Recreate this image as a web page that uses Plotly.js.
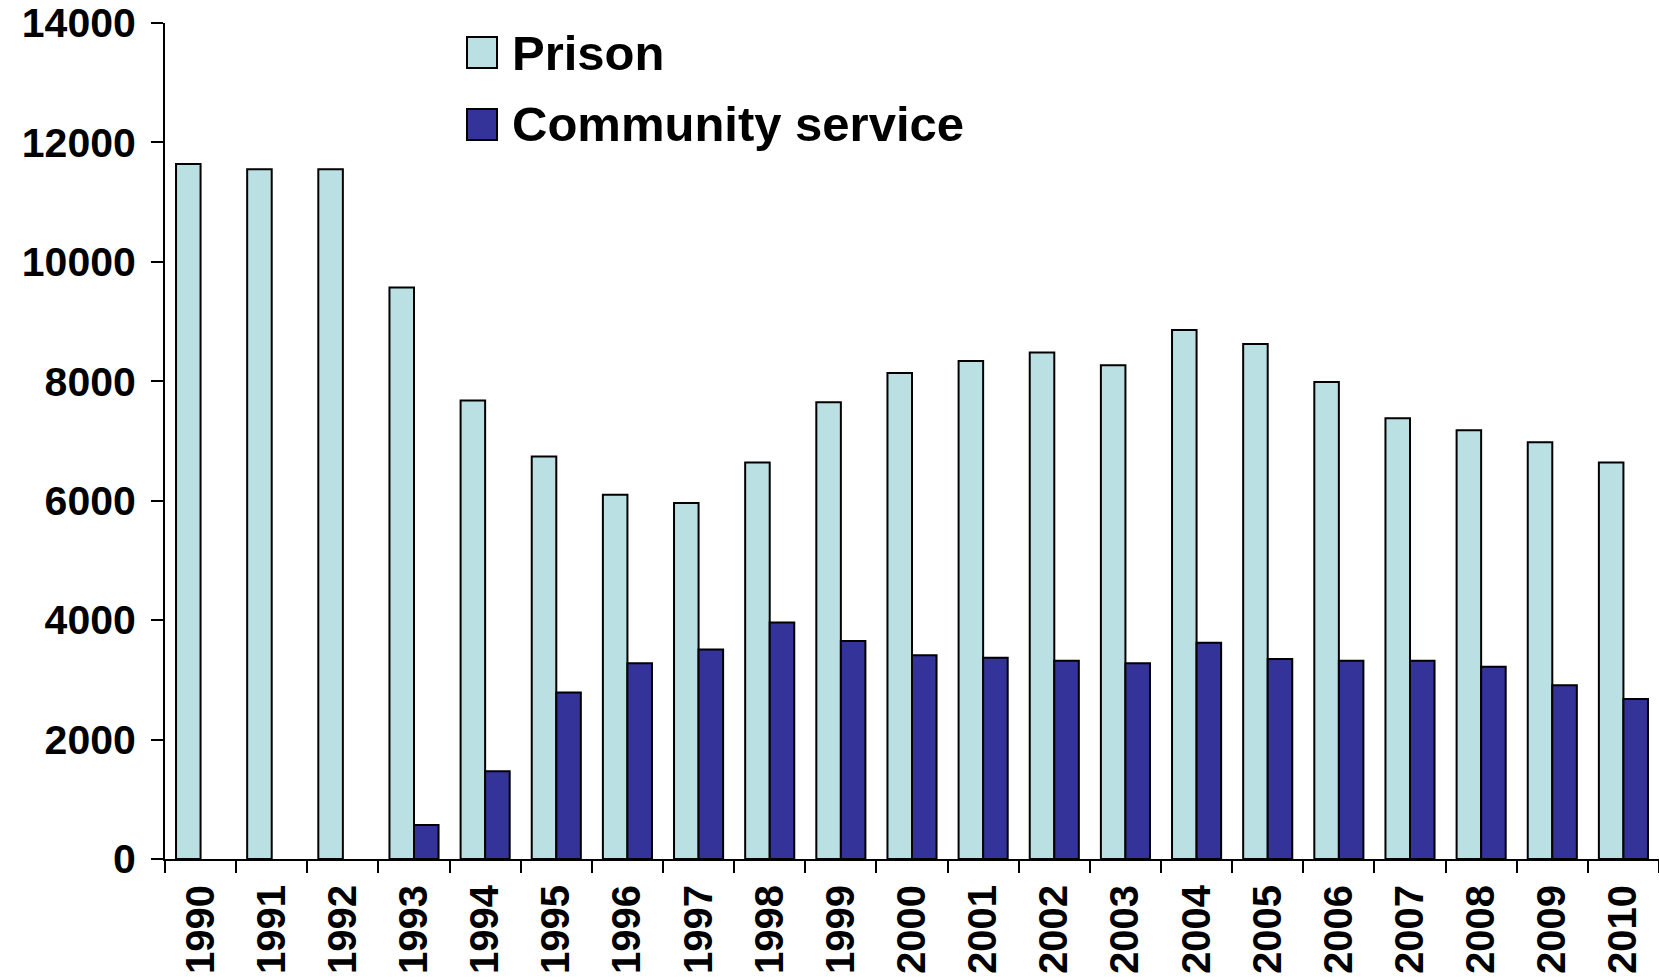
<!DOCTYPE html>
<html>
<head>
<meta charset="utf-8">
<script src="https://cdn.plot.ly/plotly-3.0.1.min.js"></script>
<style>
  html, body { margin: 0; padding: 0; background: #ffffff; }
  #chart { width: 1659px; height: 979px; }
</style>
</head>
<body>
<div id="chart"></div>
<script>
const years = ["1990","1991","1992","1993","1994","1995","1996","1997","1998","1999","2000",
               "2001","2002","2003","2004","2005","2006","2007","2008","2009","2010"];
const prison = [11640, 11550, 11550, 9570, 7680, 6740, 6100, 5960, 6640, 7650, 8140,
                8340, 8480, 8270, 8860, 8625, 7990, 7380, 7180, 6980, 6640];
const community = [null, null, null, 570, 1470, 2790, 3280, 3510, 3960, 3650, 3410,
                   3370, 3320, 3280, 3620, 3350, 3320, 3320, 3220, 2910, 2680];
const seriesNames = ["Prison", "Community service"];
const seriesColors = ["#BBE0E3", "#333399"];
const yTicks = [0, 2000, 4000, 6000, 8000, 10000, 12000, 14000];

const FONT = "Liberation Sans, Arial, sans-serif";

const traces = [
  {
    type: "bar", name: seriesNames[0], x: years, y: prison,
    marker: { color: seriesColors[0], line: { color: "#000000", width: 2 } },
    showlegend: false, hoverinfo: "x+y+name"
  },
  {
    type: "bar", name: seriesNames[1], x: years, y: community,
    marker: { color: seriesColors[1], line: { color: "#000000", width: 2 } },
    showlegend: false, hoverinfo: "x+y+name"
  }
];

// Legend drawn as paper-positioned squares and text
const L = 165, W = 1494, T = 23, H = 836;
function px2x(p) { return (p - L) / W; }
function py2y(p) { return (T + H - p) / H; }

const legendShapes = [
  { type: "rect", xref: "paper", yref: "paper",
    x0: px2x(467), x1: px2x(497), y0: py2y(68), y1: py2y(37),
    fillcolor: seriesColors[0], line: { color: "#000000", width: 2 } },
  { type: "rect", xref: "paper", yref: "paper",
    x0: px2x(467), x1: px2x(497), y0: py2y(140), y1: py2y(109),
    fillcolor: seriesColors[1], line: { color: "#000000", width: 2 } }
];
const legendAnnotations = [
  { xref: "paper", yref: "paper", x: px2x(510), y: py2y(53), xanchor: "left", yanchor: "middle",
    text: seriesNames[0], showarrow: false,
    font: { family: FONT, size: 49, color: "#000000", weight: "bold" } },
  { xref: "paper", yref: "paper", x: px2x(510), y: py2y(124), xanchor: "left", yanchor: "middle",
    text: seriesNames[1], showarrow: false,
    font: { family: FONT, size: 49, color: "#000000", weight: "bold" } }
];

const layout = {
  width: 1659, height: 979,
  margin: { l: 165, r: 0, t: 23, b: 120, pad: 0 },
  paper_bgcolor: "#ffffff", plot_bgcolor: "#ffffff",
  barmode: "group", bargap: 0.31, bargroupgap: 0,
  showlegend: false,
  font: { family: FONT, color: "#000000" },
  xaxis: {
    type: "category",
    showgrid: false, zeroline: false,
    showline: true, linecolor: "#000000", linewidth: 2,
    ticks: "outside", ticklen: 12, tickwidth: 2, tickcolor: "#000000",
    tickson: "boundaries",
    tickangle: -90,
    tickfont: { family: FONT, size: 40, color: "#000000", weight: "bold" },
    ticklabelstandoff: 8
  },
  yaxis: {
    range: [0, 14000],
    tickvals: yTicks,
    ticktext: yTicks.map(String),
    showgrid: false, zeroline: false,
    showline: true, linecolor: "#000000", linewidth: 2,
    ticks: "outside", ticklen: 12, tickwidth: 2, tickcolor: "#000000",
    tickfont: { family: FONT, size: 41, color: "#000000", weight: "bold" },
    ticklabelstandoff: 7
  },
  shapes: legendShapes,
  annotations: legendAnnotations
};

Plotly.newPlot("chart", traces, layout, { displayModeBar: false, staticPlot: true });
</script>
</body>
</html>
